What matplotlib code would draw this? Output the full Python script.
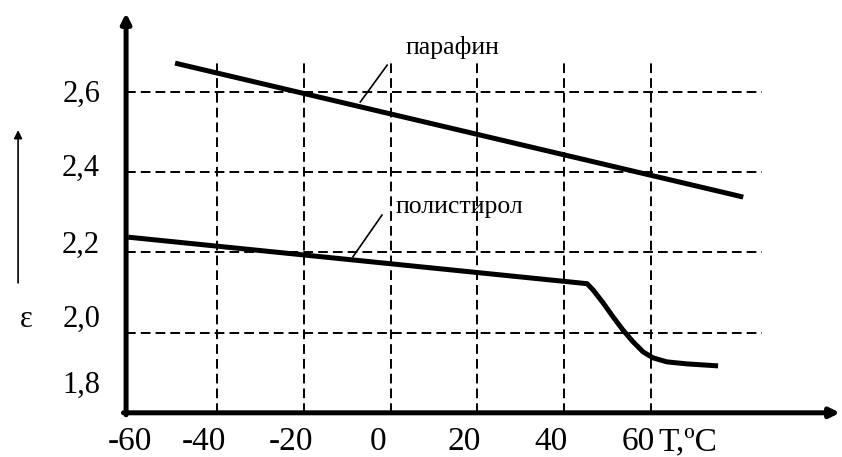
import matplotlib
matplotlib.use('Agg')
import matplotlib.pyplot as plt
import numpy as np

# температурная зависимость диэлектрической проницаемости
paraffin_t = [-49.7, 81.3]
paraffin_eps = [2.672, 2.338]

polystyrene_t = [-60.5, 45.3, 46.7, 49.0, 51.3, 53.6, 55.9, 58.2, 60.5, 63.7, 68.3, 75.5]
polystyrene_eps = [2.238, 2.122, 2.106, 2.074, 2.039, 2.006, 1.977, 1.952, 1.937, 1.927, 1.922, 1.917]

grid_t = [-40, -20, 0, 20, 40, 60]
grid_eps = [2.0, 2.2, 2.4, 2.6]

x_ticks = [-60, -40, -20, 0, 20, 40, 60]
x_labels = ['-60', '-40', '-20', '0', '20', '40', '60']
y_labels = ['2,6', '2,4', '2,2', '2,0', '1,8']

plt.rcParams['font.family'] = ['Liberation Serif', 'DejaVu Serif']

fig = plt.figure(figsize=(8.42, 4.57), dpi=100)
ax = fig.add_axes([0, 0, 1, 1])
ax.set_xlim(-90.07, 104.07)
ax.set_ylim(2.6 - 365 / 401, 2.6 + 92 / 401)
ax.axis('off')

# пунктирная сетка
dash = dict(color='black', lw=1.4, linestyle=(0, (5, 2.6)))
for t in grid_t:
    ax.plot([t, t], [1.8, 2.675], **dash)
for e in grid_eps:
    ax.plot([-61, 85.7], [e, e], **dash)

# оси со стрелками
axis_arrow = dict(arrowstyle='-|>', lw=3.6, color='black', mutation_scale=14,
                  shrinkA=0, shrinkB=0)
ax.annotate('', xy=(-61, 2.797), xytext=(-61, 1.795), arrowprops=axis_arrow)
ax.annotate('', xy=(103.6, 1.8), xytext=(-61.6, 1.8), arrowprops=axis_arrow)

# кривые
ax.plot(paraffin_t, paraffin_eps, color='black', lw=3.6, solid_capstyle='butt')
ax.plot(polystyrene_t, polystyrene_eps, color='black', lw=3.6,
        solid_capstyle='butt', solid_joinstyle='round')

# подписи кривых с выносками
ax.plot([-0.8, -7.0], [2.667, 2.575], color='black', lw=1.2)
ax.plot([-2.0, -8.7], [2.293, 2.189], color='black', lw=1.2)
ax.text(14.2, 2.712, 'парафин', fontsize=18.5, ha='center', va='center')
ax.text(15.8, 2.313, 'полистирол', fontsize=18.5, ha='center', va='center')

# подписи по оси T
shift = np.where(np.array(x_ticks) > -60, -3.0, 0.0)
for t, s, lab in zip(x_ticks, shift, x_labels):
    ax.text(t + s, 1.707, lab, fontsize=24, ha='center', va='baseline')
ax.text(61.7, 1.707, 'T,ºC', fontsize=24, ha='left', va='baseline')

# подписи по оси ε
y_base = [2.575, 2.391, 2.199, 2.014, 1.849]
for yb, lab in zip(y_base, y_labels):
    ax.text(-67.0, yb, lab, fontsize=22, ha='right', va='baseline')
ax.text(-85.4, 2.014, 'ε', fontsize=22, ha='left', va='baseline')
ax.annotate('', xy=(-85.9, 2.505), xytext=(-85.9, 2.124),
            arrowprops=dict(arrowstyle='-|>', lw=1.2, color='black',
                            mutation_scale=12, shrinkA=0, shrinkB=0))

fig.savefig('out.png', dpi=100)
